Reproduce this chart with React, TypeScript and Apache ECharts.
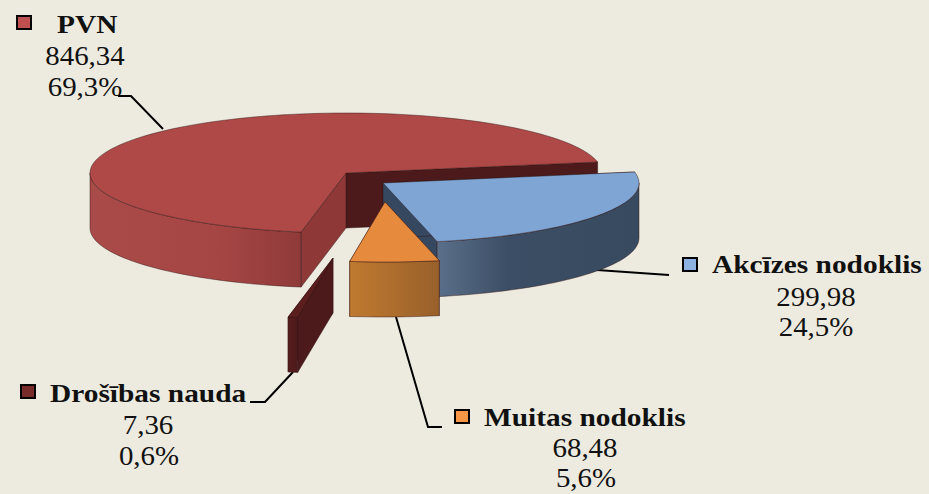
import React, { useEffect, useRef } from "react";
import * as echarts from "echarts";

// Data (clockwise from the pie's start edge)
const sliceNames = ["Akcīzes nodoklis", "Muitas nodoklis", "Drošības nauda", "PVN"];
const sliceValues = [299.98, 68.48, 7.36, 846.34];
const sliceShares = ["24,5%", "5,6%", "0,6%", "69,3%"];

// Layout and styles, in the same order as the data
const drawOrder = [3, 2, 0, 1];
const startAngle = -10.6;
const RX = 256;
const RY = 60;
const DEPTH = 55;
const apexes = [[383, 183], [385, 202], [333, 258], [346, 173]];
const keyColors = ["#8db3e2", "#f79646", "#772c2a", "#c0504d"];
const topColors = ["#7ea5d3", "#e68a3e", "#5a1e1e", "#ae4947"];
const startFaceColors = ["#35485f", "#a8662c", "#4c1a1b", "#8e3838"];
const endFaceColors = ["#35485f", "#a8662c", "#4c1a1b", "#4c1a1b"];
const wallStops: [number, string][][] = [
  [[0, "#5a6f8a"], [0.35, "#3c4e65"], [1, "#384a5f"]],
  [[0, "#c07a30"], [1, "#98602b"]],
  [[0, "#561c1c"], [1, "#4c1a1b"]],
  [[0, "#a94b49"], [0.6, "#a64644"], [1, "#8f3a3a"]],
];
const leaders = [
  [[597, 270], [669, 275]],
  [[396, 317], [428, 427], [442, 427]],
  [[293, 372], [265, 402], [250, 402]],
  [[118, 96], [131, 96], [163, 129]],
];
const keyBoxes = [[683, 258], [455, 410], [21, 385], [17, 16]];
const nameAnchors = [[712, 272], [484, 425], [50, 401], [57, 32]];
const valueAnchors = [[816, 305], [585, 456], [148, 433], [85, 64]];
const shareAnchors = [[816, 335], [586, 486], [149, 464], [85, 95]];

const total = sliceValues.reduce((a, b) => a + b, 0);
const rad = (d: number) => (d * Math.PI) / 180;
const comma = (v: number, digits: number) => v.toFixed(digits).replace(".", ",");
const OUTLINE = "rgba(50,20,20,0.65)";

function angleRange(i: number): [number, number] {
  let a = startAngle;
  for (let k = 0; k < i; k++) a += (sliceValues[k] / total) * 360;
  return [a, a + (sliceValues[i] / total) * 360];
}

function renderSlice(params: any) {
  const i = drawOrder[params.dataIndex];
  const [a0, a1] = angleRange(i);
  const [cx, cy] = apexes[i];
  const pt = (t: number, drop = 0) => [
    cx + RX * Math.cos(rad(t)),
    cy + RY * Math.sin(rad(t)) + drop,
  ];
  const arc = (from: number, to: number, drop = 0) => {
    const n = Math.max(2, Math.ceil(Math.abs(to - from) / 2));
    const out: number[][] = [];
    for (let k = 0; k <= n; k++) out.push(pt(from + ((to - from) * k) / n, drop));
    return out;
  };
  const face = (t: number, fill: string) => ({
    type: "polygon",
    shape: { points: [[cx, cy], pt(t), pt(t, DEPTH), [cx, cy + DEPTH]] },
    style: { fill, stroke: OUTLINE, lineWidth: 0.7 },
  });
  const children: any[] = [];
  children.push({
    type: "polyline",
    shape: { points: leaders[i] },
    style: { stroke: "#000", lineWidth: 2, fill: "none" },
  });
  children.push(face(a1, endFaceColors[i]));
  children.push(face(a0, startFaceColors[i]));
  const wallFrom = Math.max(a0, 0);
  const wallTo = Math.min(a1, 180);
  if (wallTo > wallFrom) {
    children.push({
      type: "polygon",
      shape: { points: [...arc(wallFrom, wallTo), ...arc(wallTo, wallFrom, DEPTH)] },
      style: {
        fill: new echarts.graphic.LinearGradient(
          0, 0, 1, 0,
          wallStops[i].map(([offset, color]) => ({ offset, color }))
        ),
        stroke: OUTLINE,
        lineWidth: 0.7,
      },
    });
  }
  children.push({
    type: "polygon",
    shape: { points: [[cx, cy], ...arc(a0, a1)] },
    style: { fill: topColors[i], stroke: OUTLINE, lineWidth: 0.7 },
  });
  children.push({
    type: "rect",
    shape: { x: keyBoxes[i][0], y: keyBoxes[i][1], width: 14, height: 13 },
    style: { fill: keyColors[i], stroke: "#000", lineWidth: 2 },
  });
  const label = (
    text: string,
    x: number,
    base: number,
    font: string,
    align: string,
    scaleX: number
  ) => ({
    type: "text",
    x,
    y: base - 8,
    scaleX,
    style: {
      text,
      x: 0,
      y: 0,
      font,
      fill: "#111",
      textAlign: align,
      textVerticalAlign: "middle",
    },
  });
  children.push(
    label(sliceNames[i], nameAnchors[i][0], nameAnchors[i][1], 'bold 26px "Liberation Serif"', "left", 1.13)
  );
  children.push(
    label(comma(sliceValues[i], 2), valueAnchors[i][0], valueAnchors[i][1], '27px "Liberation Serif"', "center", 1.07)
  );
  children.push(
    label(sliceShares[i], shareAnchors[i][0], shareAnchors[i][1], '27px "Liberation Serif"', "center", 1.07)
  );
  return { type: "group", children };
}

export default function App() {
  const ref = useRef<HTMLDivElement>(null);
  useEffect(() => {
    const chart = echarts.init(ref.current!, undefined, { renderer: "svg" });
    chart.setOption({
      animation: false,
      backgroundColor: "#edebe0",
      series: [
        {
          type: "custom",
          coordinateSystem: "none",
          silent: true,
          renderItem: renderSlice,
          data: drawOrder.map((i) => ({ name: sliceNames[i], value: sliceValues[i] })),
        },
      ],
    });
    return () => chart.dispose();
  }, []);
  return (
    <div
      ref={ref}
      style={{ position: "absolute", left: 0, top: 0, width: 929, height: 494 }}
    />
  );
}
